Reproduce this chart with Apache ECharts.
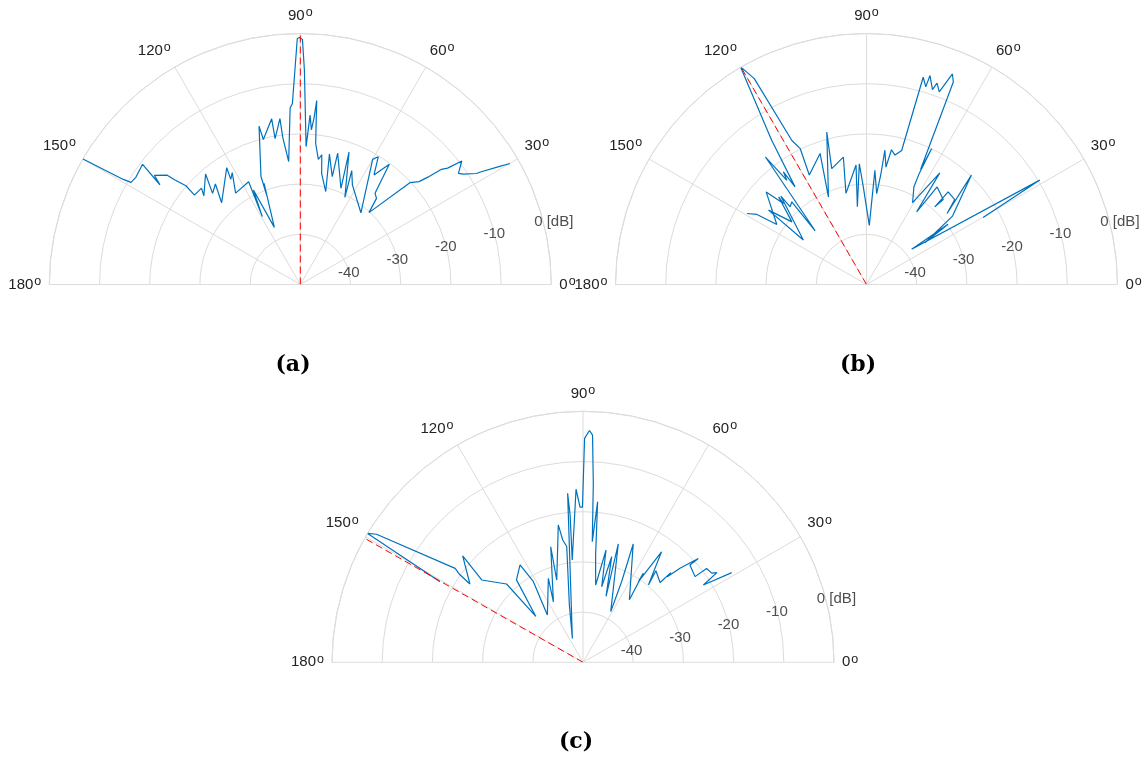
<!DOCTYPE html>
<html><head><meta charset="utf-8">
<script src="https://cdn.jsdelivr.net/npm/echarts@6/dist/echarts.min.js"></script>
<style>html,body{margin:0;padding:0;background:#fff}#c{width:1147px;height:761px}</style>
</head><body><div id="c"></div>
<script>
// ---- data (angle in degrees, gain in dB) ----
const anglesA = [150,149.3,148.9,146.9,142.7,144.6,143.2,140.6,140.2,139.2,139.8,135.7,137.4,130.6,133.9,130.2,133.9,122.2,123.5,121.3,125.3,116.7,119.2,116.4,114.4,109.7,110.6,110.0,104.6,104.3,99.8,99.8,97.0,96.8,95.4,93.3,92.5,90.7,90.2,89.5,88.9,87.6,86.7,85.9,85.3,84.9,83.8,81.8,80.6,79.1,74.7,77.4,73.5,74.1,67.1,69.8,62.9,65.7,62.4,49.8,59.97,58.6,56.06,53.5,50.7,48.5,46.3,42.9,40.9,40.1,39.2,38.3,37.4,35.1,34.1,32.2,32.0,30.7,30.0];
const gainA   = [0,-9.0,-10.6,-10.9,-10.5,-15.7,-13.7,-15.7,-17.5,-19.9,-22.4,-22.5,-23.9,-21.0,-24.8,-23.8,-27.4,-22.5,-24.9,-23.9,-27.7,-27.1,-34.5,-29.0,-37.5,-28.6,-31.0,-27.1,-17.4,-20.2,-16.5,-20.5,-16.7,-20.5,-25.4,-14.8,-13.9,-1.0,-0.8,-1.2,-7.3,-22.5,-16.2,-19.1,-16.8,-13.2,-21.7,-24.8,-23.8,-27.5,-30.8,-23.4,-27.6,-22.8,-29.2,-21.9,-30.5,-25.1,-27.6,-31.3,-21.2,-20.2,-23.7,-20.2,-26.5,-27.1,-30.2,-20.2,-18.7,-16.8,-13.7,-12.6,-9.5,-11.5,-10.8,-8.5,-7.7,-4.0,-1.8];

const anglesB = [149.3,147.4,146.2,137.3,135.7,135.1,140.0,142.8,144.8,134.1,134.5,132.1,133.7,128.4,127.4,126.4,126.2,123.3,123.1,120.1,119.8,118.6,117.4,116.0,117.6,109.5,113.5,104.6,106.7,100.3,102.7,95.0,96.7,93.4,91.9,87.3,85.8,83.6,82.6,82.2,80.6,79.5,77.6,75.3,74.7,73.3,73.1,71.3,70.7,69.3,67.8,66.8,64.8,64.4,64.6,64.1,60.6,56.7,55.4,54.1,47.9,48.7,48.6,43.9,41.4,46.2,38.5,35.6,36.5,37.9,31.06,29.9];
const gainB   = [-22.3,-24.1,-28.5,-22.8,-26.9,-25.3,-30.6,-25.5,-34.6,-25.5,-28.3,-27.8,-35.2,-17.6,-23.9,-22.1,-25.9,-15.6,-14.9,-0.1,-0.5,-3.3,-17.7,-19.9,-25.4,-22.3,-31.0,-18.6,-25.9,-24.2,-31.4,-26.1,-34.4,-25.9,-30.5,-38.2,-27.2,-31.8,-28.0,-23.0,-26.3,-22.7,-23.6,-22.4,-7.2,-8.9,-6.5,-9.0,-7.5,-9.0,-4.7,-6.1,-24.7,-20.0,-25.5,-28.4,-31.3,-23.4,-32.4,-26.0,-27.2,-29.4,-25.4,-25.6,-28.6,-19.8,-28.1,-35.7,-29.8,-38.6,-9.7,-23.2];

const anglesC = [150.6,149.1,148.2,143.7,144.5,145.3,138.5,140.9,134.3,135.8,128.9,122.9,121.6,127.0,112.4,116.1,105.6,107.7,100.2,99.4,98.0,103.4,114.0,95.2,95.0,96.0,92.3,91.1,90.2,89.6,88.4,87.6,86.7,85.6,84.8,83.3,80.7,78.4,76.1,74.8,70.7,73.4,61.3,64.4,67.0,53.4,55.9,55.5,54.6,49.8,51.45,45.96,45.6,45.4,44.1,42.0,42.3,37.4,37.2,34.7,33.8,32.7,31.1];
const gainC   = [-17.3,0,-1.6,-18.4,-19.7,-22.6,-18.0,-24.0,-28.2,-36.9,-28.9,-26.9,-31.1,-38.2,-31.9,-36.6,-26.1,-32.8,-22.2,-25.3,-26.7,-38.3,-44.8,-16.2,-20.5,-29.5,-15.5,-19.1,-19.1,-5.4,-3.8,-4.7,-14.3,-25.9,-17.9,-28.5,-34.4,-27.2,-34.5,-28.2,-36.1,-25.4,-38.5,-32.2,-24.4,-34.5,-28.6,-30.5,-23.0,-29.8,-26.7,-27.9,-25.0,-26.1,-23.1,-19.1,-21.2,-21.9,-19.1,-18.8,-17.9,-21.5,-15.4];

const steerAngles = [90, 120, 150.4];      // red dashed reference directions
const radiusTicks = [-40, -30, -20, -10, 0];
const captions = ['(a)', '(b)', '(c)'];

// ---- layout ----
const centers = [[300.3, 284.5], [866.5, 284.5], [583, 662.3]];
const R = 251;
const captionPos = [[293, 365], [858, 365], [576, 742]];
const TXT = '#222222', GRID = '#dcdcdc', FONT = 'Liberation Sans, Arial, Helvetica, sans-serif';

const chart = echarts.init(document.getElementById('c'), null, {renderer: 'canvas'});
const polar = [], angleAxis = [], radiusAxis = [], series = [];
const curves = [[anglesA, gainA], [anglesB, gainB], [anglesC, gainC]];

for (let i = 0; i < 3; i++) {
  polar.push({center: centers[i], radius: R});
  angleAxis.push({
    polarIndex: i, type: 'value', min: 0, max: 180, interval: 30,
    startAngle: 0, endAngle: 180, clockwise: false,
    axisLine: {show: true, lineStyle: {color: GRID, width: 1}},
    axisTick: {show: false},
    splitLine: {show: true, lineStyle: {color: GRID, width: 1}},
    axisLabel: {
      show: true, margin: 8,
      formatter: v => '{n|' + v + '}{s|o}',
      rich: {
        n: {fontSize: 15, fontFamily: FONT, color: TXT, lineHeight: 19},
        s: {fontSize: 12.5, fontFamily: FONT, color: TXT, verticalAlign: 'top', lineHeight: 19, padding: [0, 0, 9, 1]}
      }
    }
  });
  radiusAxis.push({
    polarIndex: i, type: 'value', min: -50, max: 0, interval: 10,
    axisLine: {show: false}, axisTick: {show: false}, axisLabel: {show: false},
    splitLine: {show: true, lineStyle: {color: GRID, width: 1}}
  });
  const [ang, g] = curves[i];
  series.push({
    type: 'line', coordinateSystem: 'polar', polarIndex: i, symbol: 'none', animation: false,
    lineStyle: {color: '#0072BD', width: 1.2},
    data: ang.map((a, k) => [g[k], a]), z: 3
  });
  series.push({
    type: 'line', coordinateSystem: 'polar', polarIndex: i, symbol: 'none', animation: false,
    lineStyle: {color: '#ff0000', width: 1, type: [7, 4]},
    data: [[-50, steerAngles[i]], [0, steerAngles[i]]], z: 4
  });
  series.push({
    type: 'scatter', coordinateSystem: 'polar', polarIndex: i, symbolSize: 0, animation: false, silent: true,
    data: radiusTicks.map(v => ({
      value: [v, 15],
      label: {
        show: true, position: 'inside', color: TXT, fontSize: 15, fontFamily: FONT,
        formatter: v === 0 ? '0 [dB]' : String(v),
        offset: v === 0 ? [11, 2] : [0, 1.5]
      }
    }))
  });
}

chart.setOption({
  backgroundColor: '#fff',
  animation: false,
  polar, angleAxis, radiusAxis, series,
  graphic: captions.map((t, i) => ({
    type: 'text', x: captionPos[i][0], y: captionPos[i][1],
    style: {text: t, font: 'bold 22px "DejaVu Serif", serif', fill: '#000', textAlign: 'center', textVerticalAlign: 'middle'}
  }))
});
</script></body></html>
